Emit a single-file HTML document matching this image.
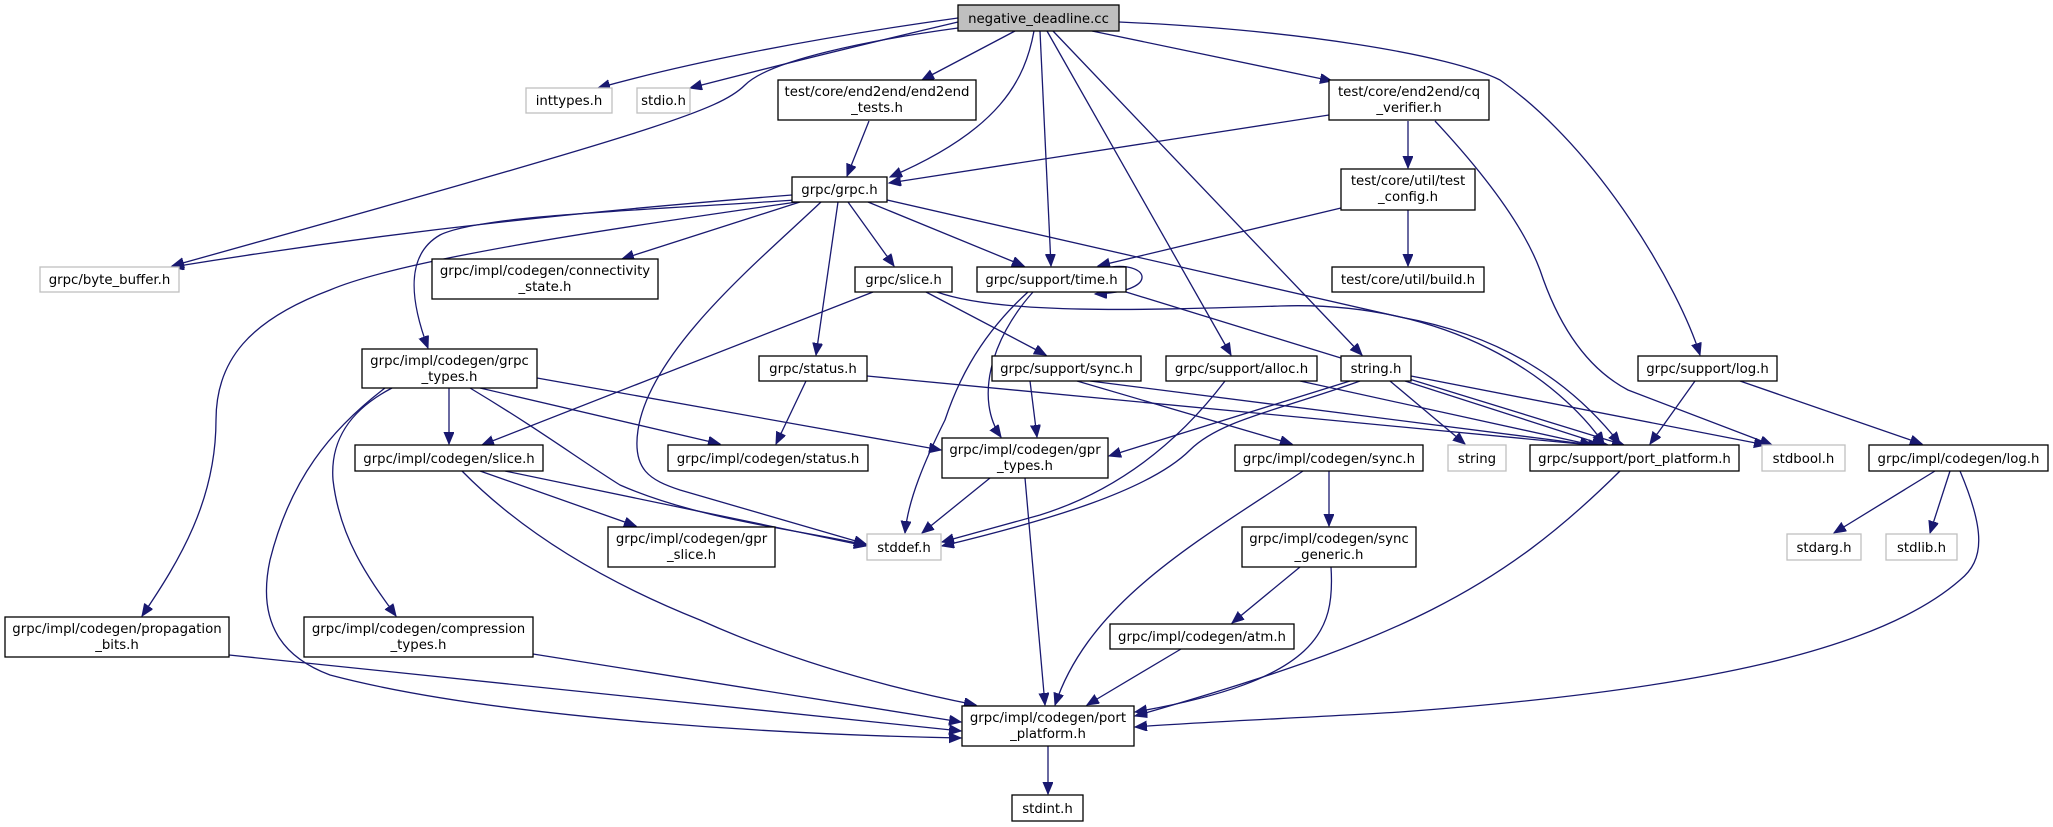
<!DOCTYPE html>
<html><head><meta charset="utf-8"><style>
html,body{margin:0;padding:0;background:#fff;}
svg{display:block;}
text{font-family:"DejaVu Sans","Liberation Sans",sans-serif;font-size:13.3px;fill:#000;text-anchor:middle;}
.n{fill:#fff;stroke:#000;stroke-width:1.3;}
.g{fill:#fff;stroke:#bfbfbf;stroke-width:1.3;}
path.e{fill:none;stroke:#191970;stroke-width:1.3;marker-end:url(#a);}
</style></head><body>
<svg width="2053" height="827" viewBox="0 0 2053 827" xmlns="http://www.w3.org/2000/svg">
<defs>
<marker id="a" markerUnits="userSpaceOnUse" markerWidth="14" markerHeight="12" refX="12" refY="5" orient="auto">
<path d="M0,0 L12,5 L0,10 z" fill="#191970" stroke="#191970"/>
</marker>
</defs>

<!-- edges -->
<path class="e" d="M958,18 C800,40 680,65 598,88"/>
<path class="e" d="M958,22 C860,45 760,70 690,88"/>
<path class="e" d="M958,28 C870,40 770,60 745,85 C720,110 660,130 172,266"/>
<path class="e" d="M1015,31 L922,80"/>
<path class="e" d="M1034,31 C1025,80 1000,130 890,177"/>
<path class="e" d="M1040,31 L1051,266"/>
<path class="e" d="M1047,31 L1231,355"/>
<path class="e" d="M1053,31 L1362,355"/>
<path class="e" d="M1092,31 L1332,81"/>
<path class="e" d="M1119,22 C1300,30 1450,55 1500,80 C1600,150 1680,290 1700,355"/>
<path class="e" d="M869,121 L847,176"/>
<path class="e" d="M1329,115 L889,183"/>
<path class="e" d="M1408,121 L1408,168"/>
<path class="e" d="M1435,121 C1490,180 1525,230 1540,270 C1560,330 1590,370 1628,390 L1772,445"/>
<path class="e" d="M1341,208 L1098,266"/>
<path class="e" d="M1408,210 L1408,266"/>
<path class="e" d="M1111,267 C1150,262 1160,292 1095,294"/>
<path class="e" d="M1033,292 C990,340 975,400 1001,437"/>
<path class="e" d="M1028,292 C975,340 955,390 945,420 C925,460 908,500 905,533"/>
<path class="e" d="M1126,292 L1624,445"/>
<path class="e" d="M792,195 C600,210 400,230 172,267"/>
<path class="e" d="M800,202 L622,259"/>
<path class="e" d="M795,200 C650,210 480,215 440,235 C405,255 410,300 428,348"/>
<path class="e" d="M797,202 C600,230 400,260 330,290 C250,320 216,360 216,420 C216,500 180,560 142,616"/>
<path class="e" d="M848,202 L894,266"/>
<path class="e" d="M868,202 L1024,266"/>
<path class="e" d="M838,202 L816,355"/>
<path class="e" d="M821,202 C760,260 650,350 638,430 C632,470 650,480 680,490 L866,544"/>
<path class="e" d="M887,200 L1400,317 C1500,335 1570,380 1620,444"/>
<path class="e" d="M873,292 L482,445"/>
<path class="e" d="M926,292 L1046,355"/>
<path class="e" d="M937,292 C1000,315 1150,310 1280,306 C1450,300 1560,380 1604,444"/>
<path class="e" d="M806,381 L776,444"/>
<path class="e" d="M867,376 L1612,447"/>
<path class="e" d="M1030,381 L1037,437"/>
<path class="e" d="M1077,381 L1292,444"/>
<path class="e" d="M1090,381 L1600,446"/>
<path class="e" d="M1225,381 C1180,440 1120,490 1040,515 L942,542"/>
<path class="e" d="M1300,381 L1592,445"/>
<path class="e" d="M1390,381 L1465,444"/>
<path class="e" d="M1405,381 L1604,445"/>
<path class="e" d="M1411,376 L1766,445"/>
<path class="e" d="M1350,381 L1109,456"/>
<path class="e" d="M1360,381 C1280,410 1220,420 1190,450 C1150,490 1050,520 942,546"/>
<path class="e" d="M1695,381 L1650,444"/>
<path class="e" d="M1740,381 L1922,444"/>
<path class="e" d="M1935,471 L1834,533"/>
<path class="e" d="M1950,471 L1930,533"/>
<path class="e" d="M1960,471 C1985,530 1985,560 1960,580 C1880,650 1700,690 1400,712 C1300,718 1200,722 1135,727"/>
<path class="e" d="M1620,471 C1500,590 1400,640 1135,716"/>
<path class="e" d="M990,478 L922,533"/>
<path class="e" d="M1025,478 L1045,705"/>
<path class="e" d="M1303,471 C1200,540 1090,600 1055,705"/>
<path class="e" d="M1329,471 L1329,526"/>
<path class="e" d="M1300,567 L1232,623"/>
<path class="e" d="M1331,567 C1335,630 1320,680 1135,712"/>
<path class="e" d="M1181,649 L1087,705"/>
<path class="e" d="M1048,746 L1048,794"/>
<path class="e" d="M449,388 L449,444"/>
<path class="e" d="M480,388 L720,444"/>
<path class="e" d="M537,378 L941,450"/>
<path class="e" d="M470,388 C540,430 580,460 620,485 C700,520 800,530 866,545"/>
<path class="e" d="M392,388 C350,410 330,440 333,480 C340,540 370,580 396,616"/>
<path class="e" d="M385,388 C330,430 290,480 270,560 C255,630 290,660 330,675 C500,720 800,735 961,738"/>
<path class="e" d="M480,471 L636,526"/>
<path class="e" d="M505,471 L866,546"/>
<path class="e" d="M462,471 C520,530 600,580 700,620 C800,665 900,690 976,705"/>
<path class="e" d="M229,655 L961,731"/>
<path class="e" d="M533,654 L961,722"/>

<!-- nodes -->
<rect x="958" y="5" width="161" height="26" fill="#bfbfbf" stroke="#000" stroke-width="1.3"/>
<text x="1038.5" y="23">negative_deadline.cc</text>

<rect class="g" x="526" y="88" width="86" height="25"/><text x="569" y="105">inttypes.h</text>
<rect class="g" x="637" y="88" width="53" height="25"/><text x="663.5" y="105">stdio.h</text>

<rect class="n" x="778" y="80" width="198" height="40"/><text x="877" y="96">test/core/end2end/end2end</text><text x="877" y="112">_tests.h</text>
<rect class="n" x="1329" y="80" width="160" height="40"/><text x="1409" y="96">test/core/end2end/cq</text><text x="1409" y="112">_verifier.h</text>

<rect class="n" x="792" y="177" width="95" height="25"/><text x="839.5" y="194">grpc/grpc.h</text>
<rect class="n" x="1341" y="169" width="134" height="41"/><text x="1408" y="185">test/core/util/test</text><text x="1408" y="201">_config.h</text>

<rect class="g" x="40" y="267" width="139" height="25"/><text x="109.5" y="284">grpc/byte_buffer.h</text>
<rect class="n" x="432" y="259" width="226" height="40"/><text x="545" y="275">grpc/impl/codegen/connectivity</text><text x="545" y="291">_state.h</text>
<rect class="n" x="855" y="267" width="97" height="25"/><text x="903.5" y="284">grpc/slice.h</text>
<rect class="n" x="977" y="267" width="149" height="25"/><text x="1051.5" y="284">grpc/support/time.h</text>
<rect class="n" x="1332" y="267" width="152" height="25"/><text x="1408" y="284">test/core/util/build.h</text>

<rect class="n" x="362" y="349" width="175" height="39"/><text x="449.5" y="365">grpc/impl/codegen/grpc</text><text x="449.5" y="381">_types.h</text>
<rect class="n" x="759" y="356" width="108" height="25"/><text x="813" y="373">grpc/status.h</text>
<rect class="n" x="992" y="356" width="149" height="25"/><text x="1066.5" y="373">grpc/support/sync.h</text>
<rect class="n" x="1166" y="356" width="151" height="25"/><text x="1241.5" y="373">grpc/support/alloc.h</text>
<rect class="n" x="1341" y="356" width="70" height="25"/><text x="1376" y="373">string.h</text>
<rect class="n" x="1638" y="356" width="139" height="25"/><text x="1707.5" y="373">grpc/support/log.h</text>

<rect class="n" x="355" y="445" width="188" height="26"/><text x="449" y="463">grpc/impl/codegen/slice.h</text>
<rect class="n" x="668" y="445" width="200" height="26"/><text x="768" y="463">grpc/impl/codegen/status.h</text>
<rect class="n" x="942" y="438" width="166" height="40"/><text x="1025" y="454">grpc/impl/codegen/gpr</text><text x="1025" y="470">_types.h</text>
<rect class="n" x="1235" y="445" width="188" height="26"/><text x="1329" y="463">grpc/impl/codegen/sync.h</text>
<rect class="g" x="1448" y="445" width="58" height="26"/><text x="1477" y="463">string</text>
<rect class="n" x="1530" y="445" width="209" height="26"/><text x="1634.5" y="463">grpc/support/port_platform.h</text>
<rect class="g" x="1762" y="445" width="83" height="26"/><text x="1803.5" y="463">stdbool.h</text>
<rect class="n" x="1869" y="445" width="179" height="26"/><text x="1958.5" y="463">grpc/impl/codegen/log.h</text>

<rect class="n" x="608" y="527" width="167" height="40"/><text x="691.5" y="543">grpc/impl/codegen/gpr</text><text x="691.5" y="559">_slice.h</text>
<rect class="g" x="867" y="534" width="74" height="26"/><text x="904" y="552">stddef.h</text>
<rect class="n" x="1242" y="527" width="174" height="40"/><text x="1329" y="543">grpc/impl/codegen/sync</text><text x="1329" y="559">_generic.h</text>
<rect class="g" x="1787" y="534" width="74" height="26"/><text x="1824" y="552">stdarg.h</text>
<rect class="g" x="1886" y="534" width="71" height="26"/><text x="1921.5" y="552">stdlib.h</text>

<rect class="n" x="5" y="617" width="224" height="40"/><text x="117" y="633">grpc/impl/codegen/propagation</text><text x="117" y="649">_bits.h</text>
<rect class="n" x="304" y="617" width="229" height="40"/><text x="418.5" y="633">grpc/impl/codegen/compression</text><text x="418.5" y="649">_types.h</text>
<rect class="n" x="1110" y="624" width="184" height="25"/><text x="1202" y="641">grpc/impl/codegen/atm.h</text>

<rect class="n" x="962" y="706" width="172" height="40"/><text x="1048" y="722">grpc/impl/codegen/port</text><text x="1048" y="738">_platform.h</text>
<rect class="n" x="1012" y="795" width="71" height="26"/><text x="1047.5" y="813">stdint.h</text>
</svg>
</body></html>
